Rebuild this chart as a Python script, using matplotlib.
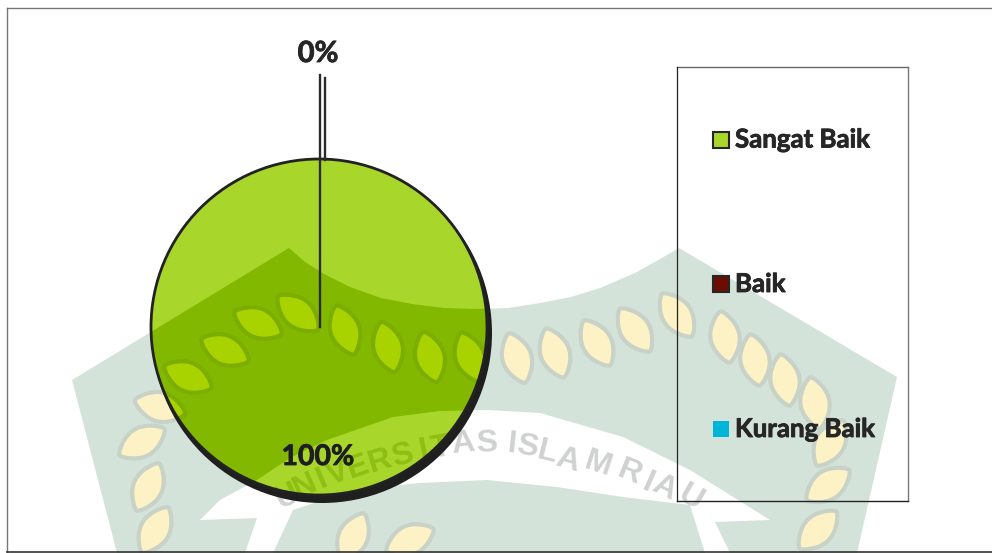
#!/usr/bin/env python3
"""Pie chart with legend box over a pale crest watermark."""

import matplotlib
matplotlib.use('Agg')
import matplotlib.pyplot as plt
import matplotlib.patheffects as pe
import numpy as np
from matplotlib.patches import Circle, Polygon, Rectangle

plt.rcParams['font.family'] = ['Lato', 'DejaVu Sans']

# ── chart data ────────────────────────────────────────────────────
CATEGORIES = ['Sangat Baik', 'Baik', 'Kurang Baik']
SHARES = [100, 0, 0]
SLICE_COLORS = ['#A9D62A', '#6B0D02', '#00B5D8']

# ── watermark outlines, in image pixels ───────────────────────────
CREST_X = [289, 305, 324, 350, 381, 412, 444, 476, 508, 540, 571, 600, 635, 660,
           679, 897, 857, 117, 72]
CREST_Y = [248, 262, 274, 287, 298, 304, 308, 309, 308, 303, 297, 288, 273, 259,
           248, 377, 553, 553, 380]
RIBBON_X = [200, 220, 257, 290, 327, 393, 440, 487, 540, 623, 690, 730, 770, 715,
            730, 705, 690, 623, 557, 487, 420, 353, 293, 273, 245, 257]
RIBBON_Y = [520, 500, 480, 458, 440, 417, 411, 410, 413, 437, 470, 495, 520, 522,
            553, 553, 505, 497, 487, 480, 483, 490, 510, 553, 553, 518]
LEAF_X = [345, 388, 430, 470, 517, 555, 597, 635, 677, 725, 755, 785, 815, 830,
          828, 818, 298, 258, 225, 188, 160, 142, 148, 155, 353, 410]
LEAF_Y = [330, 347, 357, 357, 358, 353, 343, 330, 315, 337, 360, 380, 403, 443,
          485, 530, 313, 323, 350, 377, 407, 442, 487, 530, 537, 540]
LEAF_TILT = [20, 15, 15, 20, 18, 20, 30, 35, 35, 10, 10, 10, 10, -30, -55, -45,
             50, 65, 65, 65, 75, -60, -25, -30, -25, -65]
WM_TEXT = 'UNIVERSITASISLAMRIAU'
WM_X = [287, 305, 322, 338, 358, 380, 403, 424, 441, 463, 486, 512, 527, 547,
        568, 598, 630, 648, 664, 690]
WM_Y = [497, 487, 480, 474, 468, 462, 456, 451, 448, 444, 444, 445, 447, 453,
        460, 465, 473, 483, 488, 498]
WM_ROT = [25, 24, 23, 21, 19, 17, 15, 12, 10, 6, 2, -6, -10, -14, -16, -18,
          -22, -24, -26, -30]

PIE_X, PIE_Y, PIE_R = 319, 327, 168
TEXT_DARK = '#262626'
HEAVY = [pe.withStroke(linewidth=0.6, foreground=TEXT_DARK)]

fig = plt.figure(figsize=(9.92, 5.53), dpi=100, facecolor='white')
ax = fig.add_axes([0, 0, 1, 1])


def leaf_outline(x, y, tilt, length=48, width=25):
    """Pointed leaf; tilt in degrees from vertical, positive leaning like a backslash."""
    t = np.linspace(0, 1, 30)
    u = (t - 0.5) * length
    v = 0.5 * width * np.sin(np.pi * t) ** 0.8
    u = np.r_[u, u[::-1]]
    v = np.r_[v, -v[::-1]]
    a = np.radians(tilt)
    return np.c_[x + u * np.sin(a) + v * np.cos(a), y + u * np.cos(a) - v * np.sin(a)]


def draw_crest(band, leaf, rope, ribbon, letters, clip=None, z=0.5):
    """Watermark shapes; clip limits them to the pie when given."""
    items = [Polygon(list(zip(CREST_X, CREST_Y)), fc=band, ec='none')]
    for x, y, tilt in zip(LEAF_X, LEAF_Y, LEAF_TILT):
        items.append(Polygon(leaf_outline(x, y, tilt), fc=rope, ec=rope, lw=6,
                             joinstyle='round'))
    items.append(Polygon(list(zip(RIBBON_X, RIBBON_Y)), fc=ribbon, ec='none'))
    for x, y, tilt in zip(LEAF_X, LEAF_Y, LEAF_TILT):
        items.append(Polygon(leaf_outline(x, y, tilt), fc=leaf, ec='none'))
    for i, item in enumerate(items):
        item.set_zorder(z + i * 0.001)
        ax.add_patch(item)
        if clip is not None:
            item.set_clip_path(clip)
    for ch, x, y, rot in zip(WM_TEXT, WM_X, WM_Y, WM_ROT):
        t = ax.text(x, y, ch, fontsize=23, fontweight='bold', color=letters,
                    family=['Liberation Sans'], rotation=rot, ha='center',
                    va='center', rotation_mode='anchor', zorder=z + 0.5)
        if clip is not None:
            # Agg ignores clip paths on plain text, path effects draw it as a path
            t.set_path_effects([pe.Normal()])
            t.set_clip_on(True)
            t.set_clip_path(clip)


draw_crest('#D4E3DA', '#FCF2C6', '#C9D2C6', '#FFFFFF', '#D0D2D1')

# shadow under the pie
ax.add_patch(Circle((322, 333), 170, fc='#1F1F1F', ec='none', zorder=1.5))

wedges, _ = ax.pie(SHARES, colors=SLICE_COLORS, center=(PIE_X, PIE_Y),
                   radius=PIE_R, startangle=90, counterclock=False,
                   wedgeprops=dict(linewidth=0, zorder=2))

ax.set_xlim(0, 992)
ax.set_ylim(553, 0)
ax.set_aspect('auto')
ax.axis('off')

# watermark seen through the slice
clip = Circle((PIE_X, PIE_Y), PIE_R, transform=ax.transData)
draw_crest('#82B800', '#A8D200', '#7BAE00', '#A9D62A', '#8FBE14', clip=clip, z=2.5)
ax.add_patch(Circle((PIE_X, PIE_Y), PIE_R, fc='none', ec='#222222', lw=2.0, zorder=3.5))

# leader lines and percentage labels
ax.plot([319.5, 319.5], [75, PIE_Y], color='#2B2B2B', lw=1.7, zorder=4)
ax.plot([325, 325], [78, 160], color='#2B2B2B', lw=1.7, zorder=4)
ax.text(318, 54, f'{SHARES[1]}%', fontsize=21, fontweight='bold', color=TEXT_DARK,
        ha='center', va='center', zorder=5, path_effects=HEAVY)
ax.text(318, 457, f'{SHARES[0]}%', fontsize=20.5, fontweight='bold', color='#1E1E1E',
        ha='center', va='center', zorder=5, path_effects=HEAVY)

# legend box
ax.plot([677, 908], [67, 67], color='#666666', lw=1.0, zorder=4)
ax.plot([908, 908], [67, 501], color='#777777', lw=1.0, zorder=4)
ax.plot([677, 677], [67, 501], color='#222222', lw=0.9, zorder=4)
ax.plot([677, 908], [501, 501], color='#222222', lw=1.0, zorder=4)

for name, color, y in zip(CATEGORIES, SLICE_COLORS, [139.5, 284, 429]):
    edge = 'none' if color == SLICE_COLORS[2] else '#262626'
    ax.add_patch(Rectangle((713, y - 8), 16, 16, fc=color, ec=edge, lw=1.5, zorder=5))
    ax.text(735, y, name, fontsize=18.6, fontweight='bold', color=TEXT_DARK,
            ha='left', va='center', zorder=5, path_effects=HEAVY)

# outer frame
ax.plot([7, 992], [8, 8], color='#777777', lw=1.0, zorder=6)
ax.plot([7, 7], [8, 552], color='#777777', lw=1.0, zorder=6)
ax.plot([7, 992], [552, 552], color='#333333', lw=1.2, zorder=6)

fig.savefig('out.png', dpi=100, facecolor='white')
